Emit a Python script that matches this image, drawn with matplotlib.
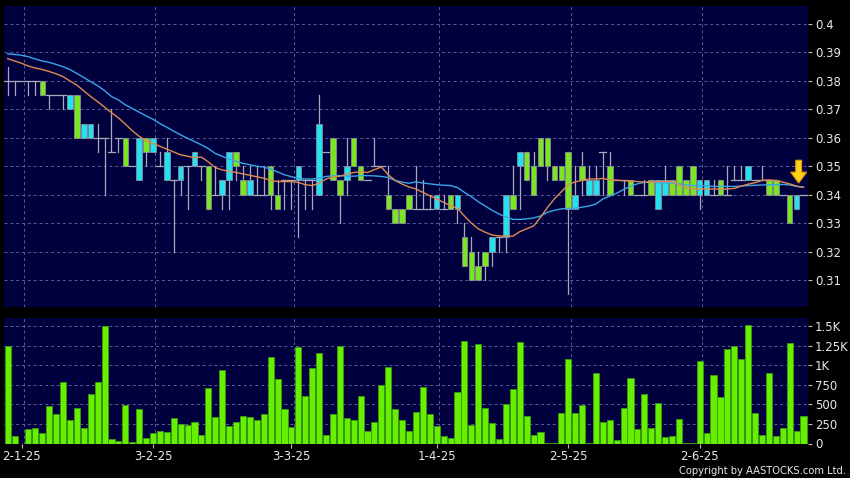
import matplotlib
matplotlib.use("Agg")
import matplotlib.pyplot as plt
from matplotlib.patches import Rectangle, FancyArrow
from matplotlib.ticker import FuncFormatter
import numpy as np

# daily bars, oldest first (open, high, low, close)
opens = [0.38, 0.38, 0.38, 0.38, 0.38, 0.38, 0.375, 0.375, 0.375, 0.37,
         0.375, 0.36, 0.36, 0.36, 0.36, 0.355, 0.36, 0.36, 0.35, 0.345,
         0.36, 0.355, 0.35, 0.345, 0.345, 0.345, 0.35, 0.35, 0.35, 0.35,
         0.34, 0.34, 0.345, 0.355, 0.345, 0.34, 0.34, 0.34, 0.35, 0.34,
         0.345, 0.345, 0.345, 0.345, 0.345, 0.34, 0.355, 0.36, 0.345, 0.345,
         0.36, 0.35, 0.345, 0.35, 0.35, 0.34, 0.335, 0.335, 0.34, 0.335,
         0.335, 0.335, 0.335, 0.335, 0.34, 0.335, 0.325, 0.32, 0.315, 0.32,
         0.32, 0.325, 0.325, 0.34, 0.35, 0.355, 0.35, 0.36, 0.36, 0.35,
         0.35, 0.355, 0.335, 0.35, 0.34, 0.34, 0.355, 0.35, 0.345, 0.345,
         0.345, 0.34, 0.34, 0.345, 0.335, 0.34, 0.345, 0.35, 0.345, 0.35,
         0.34, 0.34, 0.34, 0.345, 0.34, 0.345, 0.345, 0.345, 0.345, 0.345,
         0.345, 0.345, 0.34, 0.34, 0.335, 0.34]
highs = [0.385, 0.38, 0.38, 0.38, 0.38, 0.38, 0.375, 0.375, 0.375, 0.375,
         0.375, 0.365, 0.365, 0.365, 0.36, 0.37, 0.36, 0.36, 0.35, 0.36,
         0.36, 0.36, 0.355, 0.36, 0.345, 0.35, 0.35, 0.355, 0.35, 0.35,
         0.35, 0.345, 0.355, 0.355, 0.35, 0.35, 0.35, 0.35, 0.35, 0.345,
         0.345, 0.345, 0.35, 0.345, 0.345, 0.375, 0.355, 0.36, 0.345, 0.36,
         0.36, 0.35, 0.345, 0.36, 0.35, 0.35, 0.335, 0.335, 0.34, 0.35,
         0.345, 0.34, 0.34, 0.34, 0.34, 0.34, 0.33, 0.325, 0.32, 0.32,
         0.325, 0.325, 0.34, 0.35, 0.355, 0.355, 0.355, 0.36, 0.36, 0.35,
         0.35, 0.355, 0.35, 0.355, 0.35, 0.35, 0.355, 0.355, 0.345, 0.345,
         0.345, 0.34, 0.345, 0.345, 0.345, 0.35, 0.345, 0.35, 0.345, 0.35,
         0.345, 0.345, 0.345, 0.345, 0.35, 0.35, 0.35, 0.35, 0.345, 0.35,
         0.345, 0.345, 0.34, 0.34, 0.34, 0.34]
lows = [0.375, 0.375, 0.38, 0.375, 0.375, 0.375, 0.37, 0.375, 0.37, 0.37,
        0.36, 0.36, 0.36, 0.355, 0.34, 0.355, 0.355, 0.35, 0.35, 0.345,
        0.35, 0.355, 0.35, 0.345, 0.32, 0.34, 0.335, 0.35, 0.345, 0.335,
        0.34, 0.335, 0.335, 0.345, 0.34, 0.34, 0.34, 0.34, 0.335, 0.335,
        0.335, 0.335, 0.325, 0.335, 0.335, 0.34, 0.355, 0.345, 0.33, 0.34,
        0.35, 0.345, 0.345, 0.35, 0.35, 0.335, 0.33, 0.33, 0.335, 0.335,
        0.335, 0.335, 0.335, 0.335, 0.335, 0.33, 0.315, 0.31, 0.31, 0.31,
        0.315, 0.32, 0.32, 0.335, 0.335, 0.345, 0.34, 0.35, 0.345, 0.345,
        0.345, 0.305, 0.335, 0.34, 0.34, 0.34, 0.34, 0.34, 0.345, 0.34,
        0.34, 0.34, 0.34, 0.34, 0.335, 0.34, 0.34, 0.34, 0.34, 0.34,
        0.335, 0.34, 0.34, 0.34, 0.34, 0.345, 0.345, 0.345, 0.345, 0.345,
        0.34, 0.34, 0.34, 0.33, 0.335, 0.34]
closes = [0.38, 0.38, 0.38, 0.38, 0.38, 0.375, 0.375, 0.375, 0.375, 0.375,
          0.36, 0.365, 0.365, 0.36, 0.36, 0.355, 0.36, 0.35, 0.35, 0.36,
          0.355, 0.36, 0.35, 0.355, 0.345, 0.35, 0.35, 0.355, 0.35, 0.335,
          0.34, 0.345, 0.355, 0.35, 0.34, 0.345, 0.34, 0.34, 0.34, 0.335,
          0.345, 0.345, 0.35, 0.345, 0.345, 0.365, 0.355, 0.345, 0.34, 0.35,
          0.35, 0.345, 0.345, 0.35, 0.35, 0.335, 0.33, 0.33, 0.335, 0.335,
          0.335, 0.335, 0.34, 0.335, 0.335, 0.34, 0.315, 0.31, 0.31, 0.315,
          0.325, 0.325, 0.34, 0.335, 0.355, 0.345, 0.34, 0.35, 0.35, 0.345,
          0.345, 0.335, 0.34, 0.345, 0.345, 0.345, 0.355, 0.34, 0.345, 0.345,
          0.34, 0.34, 0.34, 0.34, 0.345, 0.345, 0.34, 0.34, 0.34, 0.34,
          0.345, 0.345, 0.34, 0.34, 0.34, 0.345, 0.345, 0.35, 0.345, 0.345,
          0.34, 0.34, 0.34, 0.33, 0.34, 0.34]
volume = [1244, 94, 0, 187, 192, 128, 473, 375, 784, 294,
          450, 200, 632, 784, 1498, 55, 30, 486, 17, 441,
          64, 136, 162, 147, 320, 249, 236, 270, 107, 712,
          337, 933, 222, 273, 354, 332, 294, 379, 1103, 826,
          443, 217, 1231, 605, 958, 1159, 107, 371, 1244, 320,
          298, 609, 162, 277, 745, 971, 435, 298, 162, 396,
          724, 379, 222, 102, 68, 656, 1308, 230, 1265, 447,
          268, 55, 503, 694, 1291, 349, 107, 145, 10, 8,
          388, 1078, 388, 486, 5, 899, 273, 294, 47, 456,
          831, 187, 630, 204, 516, 81, 94, 311, 5, 3,
          1052, 132, 878, 592, 1206, 1244, 1074, 1508, 388, 107,
          899, 102, 204, 1278, 162, 349]

# moving averages as drawn on the chart
ma_short = [0.3878, 0.3870, 0.3862, 0.3852, 0.3845, 0.3840, 0.3833, 0.3825, 0.3815, 0.3800,
            0.3785, 0.3765, 0.3745, 0.3727, 0.3708, 0.3688, 0.3670, 0.3648, 0.3625, 0.3605,
            0.3590, 0.3580, 0.3570, 0.3560, 0.3550, 0.3540, 0.3535, 0.3530, 0.3532, 0.3515,
            0.3495, 0.3487, 0.3482, 0.3478, 0.3473, 0.3468, 0.3463, 0.3458, 0.3450, 0.3446,
            0.3446, 0.3446, 0.3443, 0.3435, 0.3432, 0.3440, 0.3455, 0.3462, 0.3465, 0.3472,
            0.3478, 0.3480, 0.3478, 0.3488, 0.3497, 0.3470, 0.3450, 0.3437, 0.3427, 0.3420,
            0.3408, 0.3396, 0.3385, 0.3373, 0.3361, 0.3352, 0.3325, 0.3300, 0.3280, 0.3268,
            0.3258, 0.3255, 0.3254, 0.3254, 0.3270, 0.3280, 0.3290, 0.3320, 0.3355, 0.3385,
            0.3410, 0.3435, 0.3445, 0.3450, 0.3455, 0.3455, 0.3457, 0.3452, 0.3451, 0.3449,
            0.3448, 0.3446, 0.3444, 0.3444, 0.3446, 0.3446, 0.3447, 0.3436, 0.3424, 0.3421,
            0.3420, 0.3420, 0.3420, 0.3420, 0.3420, 0.3422, 0.3430, 0.3437, 0.3442, 0.3450,
            0.3452, 0.3450, 0.3444, 0.3438, 0.3430, 0.3426]
ma_long = [0.3895, 0.3893, 0.3890, 0.3885, 0.3877, 0.3870, 0.3865, 0.3858, 0.3850, 0.3840,
           0.3826, 0.3812, 0.3797, 0.3783, 0.3766, 0.3745, 0.3733, 0.3716, 0.3703, 0.3690,
           0.3677, 0.3665, 0.3650, 0.3637, 0.3623, 0.3610, 0.3598, 0.3587, 0.3575, 0.3562,
           0.3545, 0.3535, 0.3525, 0.3517, 0.3510, 0.3505, 0.3500, 0.3497, 0.3490, 0.3480,
           0.3470, 0.3463, 0.3457, 0.3455, 0.3455, 0.3458, 0.3464, 0.3466, 0.3467, 0.3465,
           0.3465, 0.3467, 0.3467, 0.3466, 0.3464, 0.3460, 0.3450, 0.3444, 0.3440, 0.3445,
           0.3441, 0.3438, 0.3435, 0.3433, 0.3432, 0.3425, 0.3408, 0.3393, 0.3375, 0.3360,
           0.3345, 0.3332, 0.3322, 0.3313, 0.3313, 0.3315, 0.3318, 0.3325, 0.3338, 0.3345,
           0.3350, 0.3352, 0.3352, 0.3356, 0.3360, 0.3367, 0.3385, 0.3395, 0.3405, 0.3418,
           0.3430, 0.3438, 0.3443, 0.3444, 0.3443, 0.3442, 0.3441, 0.3438, 0.3434, 0.3432,
           0.3432, 0.3431, 0.3429, 0.3429, 0.3429, 0.3429, 0.3430, 0.3432, 0.3433, 0.3434,
           0.3435, 0.3435, 0.3436, 0.3434, 0.3429, 0.3426]

tick_idx = [2, 21, 41, 62, 81, 100]
tick_labels = ['2-1-25', '3-2-25', '3-3-25', '1-4-25', '2-5-25', '2-6-25']
price_ticks = [0.31, 0.32, 0.33, 0.34, 0.35, 0.36, 0.37, 0.38, 0.39, 0.4]
vol_ticks = [0, 250, 500, 750, 1000, 1250, 1500]

bg = '#00003f'
up_col = '#22e2f2'
down_col = '#7ae61e'
wick_col = '#a8a8b8'
grid_col = '#5c5c96'
txt_col = '#e8e8e8'

fig = plt.figure(figsize=(8.5, 4.78), dpi=100, facecolor='black')
ax = fig.add_axes([4/850, 171/478, 804/850, 301/478])
axv = fig.add_axes([4/850, 34.5/478, 804/850, 125.5/478])

n = len(closes)
x = np.arange(n)
w = 0.8

for a in (ax, axv):
    a.set_facecolor(bg)
    for s in a.spines.values():
        s.set_visible(False)
    a.set_xlim(-0.53, 115.65)
    a.yaxis.tick_right()
    a.tick_params(axis='y', colors='#bbbbbb', labelcolor=txt_col, length=3, width=0.8,
                  pad=2, labelsize=8.5)
    a.grid(True, axis='y', color=grid_col, linestyle=(0, (3, 3)), linewidth=0.7)
    for t in tick_idx:
        a.axvline(t + 0.35, color=grid_col, linestyle=(0, (3, 3)), linewidth=0.7, zorder=0.5)
    a.set_axisbelow(True)

# price panel
for i in range(n):
    o, h, l, c = opens[i], highs[i], lows[i], closes[i]
    ax.plot([i, i], [l, h], color=wick_col, linewidth=0.9, zorder=2)
    if o == c:
        ax.plot([i - 0.5, i + 0.5], [o, o], color=wick_col, linewidth=0.9, zorder=2)
    else:
        col = up_col if c > o else down_col
        ax.add_patch(Rectangle((i - w / 2, min(o, c)), w, abs(c - o), facecolor=col,
                               edgecolor='#8a8a9a', linewidth=0.6, zorder=3))

ax.plot(x, ma_long, color='#3aa6e6', linewidth=1.0, zorder=4)
ax.plot(x, ma_short, color='#e08a50', linewidth=1.0, zorder=4)

# marker on the latest bar
ax.add_patch(FancyArrow(n - 1.7, ma_short[-1] + 0.0095, 0, -0.0080, width=0.85,
                        head_width=2.3, head_length=0.0038, length_includes_head=True,
                        facecolor='#ffd21a', edgecolor='#e89a00', linewidth=0.8, zorder=6))

ax.set_ylim(0.3005, 0.40633)
ax.set_yticks(price_ticks)
ax.yaxis.set_major_formatter(FuncFormatter(lambda v, p: f'{v:g}'))
ax.set_xticks([])

# volume panel
axv.bar(x, volume, width=0.88, color='#66f000', edgecolor='#3a9a10', linewidth=0.6, zorder=3)
axv.set_ylim(0, 1602)
axv.set_yticks(vol_ticks)


def vol_fmt(v, p):
    if v >= 1000:
        return f'{v / 1000:g}K'
    return f'{int(v)}'


axv.yaxis.set_major_formatter(FuncFormatter(vol_fmt))
axv.set_xticks(tick_idx)
axv.set_xticklabels(tick_labels)
axv.tick_params(axis='x', colors='#bbbbbb', labelcolor=txt_col, length=3, width=0.8,
                pad=2, labelsize=8.5)

fig.text(0.995, 0.004, 'Copyright by AASTOCKS.com Ltd.', color=txt_col, fontsize=7.2,
         ha='right', va='bottom')

fig.savefig('out.png', dpi=100, facecolor='black')
